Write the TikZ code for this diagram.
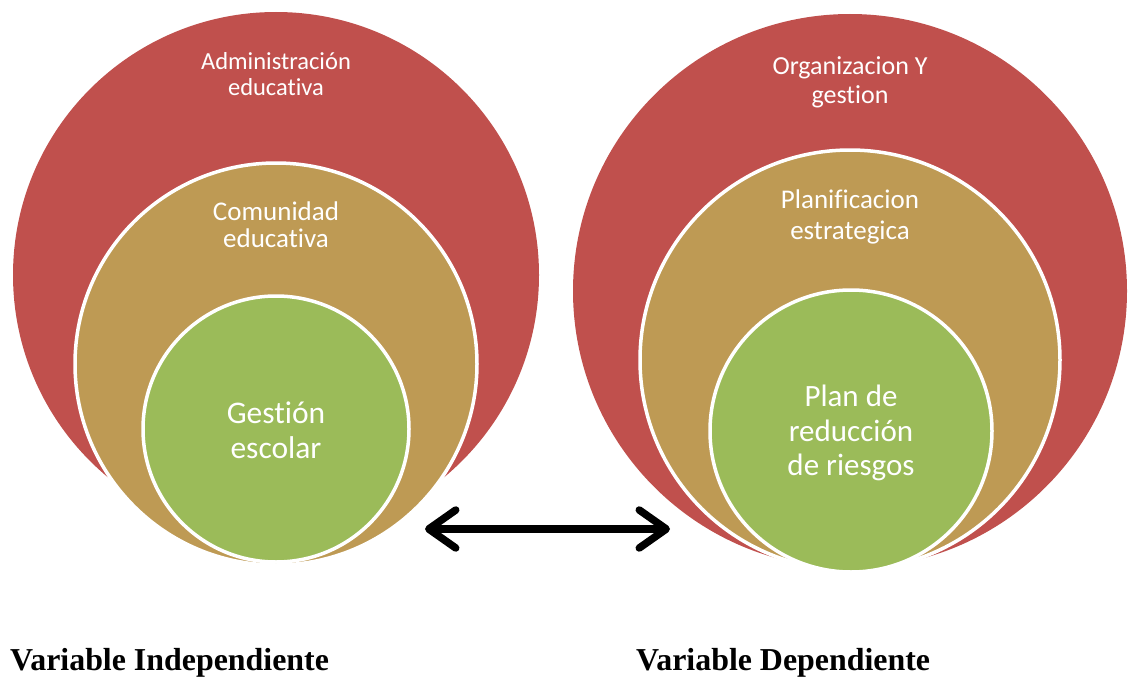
\documentclass[tikz,border=0pt]{standalone}
\usepackage{fontspec}
\setmainfont{Liberation Serif}
\newfontfamily\calibri[Ligatures = CommonOff]{Carlito}
\usepackage{tikz}
\usetikzlibrary{arrows.meta, positioning}
\definecolor{ringred}{HTML}{C0504D}
\definecolor{ringtan}{HTML}{BE9A54}
\definecolor{ringgreen}{HTML}{9BBB59}
\tikzstyle{ring} = [circle, inner sep = 0, draw = white, line width = 3.5]
\tikzstyle{lbl} = [text = white, align = center, inner sep = 0]
\tikzstyle{var} = [anchor = base west, inner sep = 0,
  font = \bfseries\fontsize{31.9}{36}\selectfont]
\tikzstyle{link} = [
  {Straight Barb[length = 27pt, width = 38pt, round]}-{Straight Barb[length = 27pt, width = 38pt, round]},
  line width = 7.5, black,
  preaction = {draw = black!20, transform canvas = {shift = {(1.5, 3)}}}
]

\begin{document}
\begin{tikzpicture}[x = 1pt, y = -1pt]
      \useasboundingbox (0, 0) rectangle (1128, 677);
      % 1-a
      \node [ring, fill = ringred, draw = none, minimum size = 526] (ring-1-a) at (276, 275) {};
      % 1-b
      \node [ring, fill = ringtan, minimum size = 402] (ring-1-b) at (276, 364) {};
      % 1-c
      \node [ring, fill = ringgreen, minimum size = 266] (ring-1-c) at (276, 429) {};
      % 2-a
      \node [ring, fill = ringred, draw = none, minimum size = 554] (ring-2-a) at (850, 291) {};
      % 2-b
      \node [ring, fill = ringtan, minimum size = 420] (ring-2-b) at (850, 360) {};
      % 2-c
      \node [ring, fill = ringgreen, minimum size = 282] (ring-2-c) at (851, 431) {};

      % labels 1
      \node [lbl, font = \calibri\fontsize{24.5}{26}\selectfont] (lbl-1-a) at (276, 74.5) {Administración\\educativa};
      \node [lbl, font = \calibri\fontsize{27}{27.5}\selectfont] (lbl-1-b) at (276, 224.5) {Comunidad\\educativa};
      \node [lbl, font = \calibri\fontsize{31.5}{35}\selectfont] (lbl-1-c) at (276, 430) {Gestión\\escolar};
      % labels 2
      \node [lbl, font = \calibri\fontsize{26}{29}\selectfont] (lbl-2-a) at (850, 82) {Organizacion Y\\gestion};
      \node [lbl, font = \calibri\fontsize{27}{31}\selectfont] (lbl-2-b) at (850, 217) {Planificacion\\estrategica};
      \node [lbl, font = \calibri\fontsize{31}{34.7}\selectfont] (lbl-2-c) at (851, 433) {Plan de\\reducción\\de riesgos};

      \coordinate (tip-1) at (425, 529);
      \coordinate (tip-2) at (670, 529);
      \draw [link] (tip-1) -- (tip-2);

      \node [var] (var-1) at (10, 670) {Variable Independiente};
      \node [var] (var-2) at (636, 670) {Variable Dependiente};
    \end{tikzpicture}
\end{document}
